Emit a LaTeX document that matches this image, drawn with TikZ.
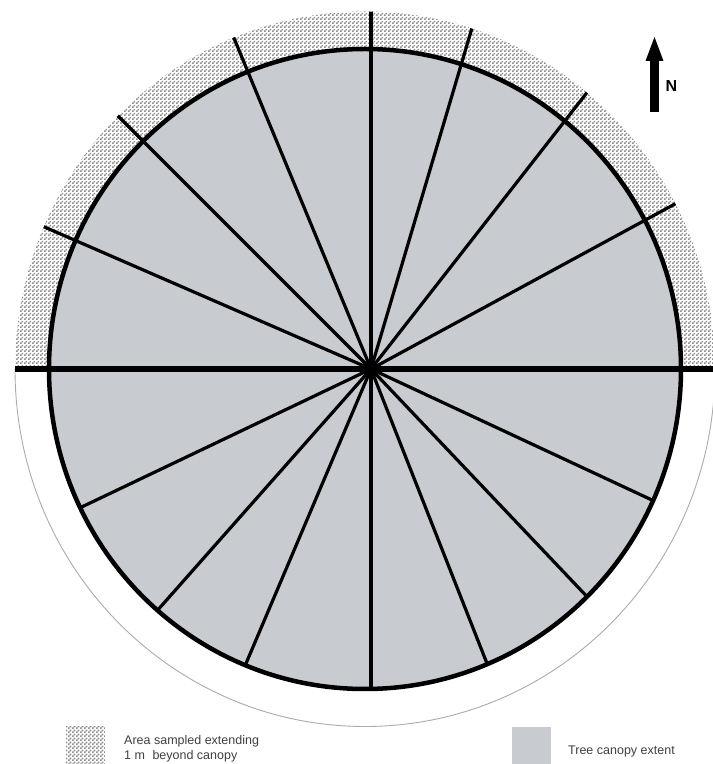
\documentclass[tikz,border=0pt]{standalone}
\usepackage{fontspec}
\setmainfont{Liberation Sans}
\usetikzlibrary{patterns,patterns.meta}
\pgfdeclarepattern{name=chk, type=uncolored,
  bottom left={\pgfpointorigin}, top right={\pgfpoint{4pt}{4pt}},
  tile size={\pgfpoint{4pt}{4pt}},
  code={\pgfpathrectangle{\pgfpointorigin}{\pgfpoint{2pt}{2pt}}
        \pgfpathrectangle{\pgfpoint{2pt}{2pt}}{\pgfpoint{2pt}{2pt}}
        \pgfusepath{fill}}}
\definecolor{canopy}{RGB}{200,203,208}
\tikzset{
  spoke/.style={line width=3.2pt, black},
  hatcharea/.style={pattern=chk, pattern color=black!45},
  legtext/.style={anchor=west, align=left, inner sep=0pt, text=black!75,
    font=\fontsize{12.5}{15}\selectfont}
}
\begin{document}
\begin{tikzpicture}[x=1pt,y=1pt,line join=round]
\clip (0,0) rectangle (713,764);
\fill[white] (0,0) rectangle (713,764);
\coordinate (hub) at (371,395);
\coordinate (cc) at (365,395);
% hatched band (upper half)
\fill[hatcharea, even odd rule] (15,395) arc[start angle=180,end angle=0,x radius=350,y radius=357.5] -- cycle
  (cc) ellipse[x radius=316,y radius=320];
% canopy
\fill[canopy] (cc) ellipse[x radius=316,y radius=320];
% outer lower arc
\draw[gray!65, line width=0.9pt] (15,395) arc[start angle=180,end angle=360,x radius=350,y radius=357.5];
% upper spokes
\begin{scope}
\clip (15,395) arc[start angle=180,end angle=0,x radius=350,y radius=357.5] -- cycle;
\foreach \a in {28.5,52,73.5,90,112.5,135,156.5} \draw[spoke] (hub) -- ++(\a:420);
\end{scope}
% lower spokes
\begin{scope}
\clip (cc) ellipse[x radius=316,y radius=320];
\foreach \a in {205.5,228.5,247,270,291.5,313.5,335} \draw[spoke] (hub) -- ++(\a:420);
\end{scope}
% canopy border
\draw[line width=4.5pt] (cc) ellipse[x radius=316,y radius=320];
% horizontal
\coordinate (hl) at (15,395);
\coordinate (hr) at (713,395);
\draw[line width=5.5pt] (hl) -- (hr);
\fill (hub) circle[radius=7];
% north arrow
\fill (650,652) rectangle (659,704);
\fill (645.5,703) -- (654.5,727) -- (663.5,703) -- cycle;
\node[font=\bfseries\fontsize{16}{16}\selectfont, inner sep=0pt] (nlab) at (671.5,678) {N};
% legend
\fill[hatcharea] (66,0) rectangle (105,37);
\node[legtext] (leg1) at (124,15) {Area sampled extending\\1 m\hspace{4pt} beyond canopy};
\fill[canopy] (512,0) rectangle (551,37);
\node[legtext] (leg2) at (568,13) {Tree canopy extent};
\end{tikzpicture}
\end{document}
